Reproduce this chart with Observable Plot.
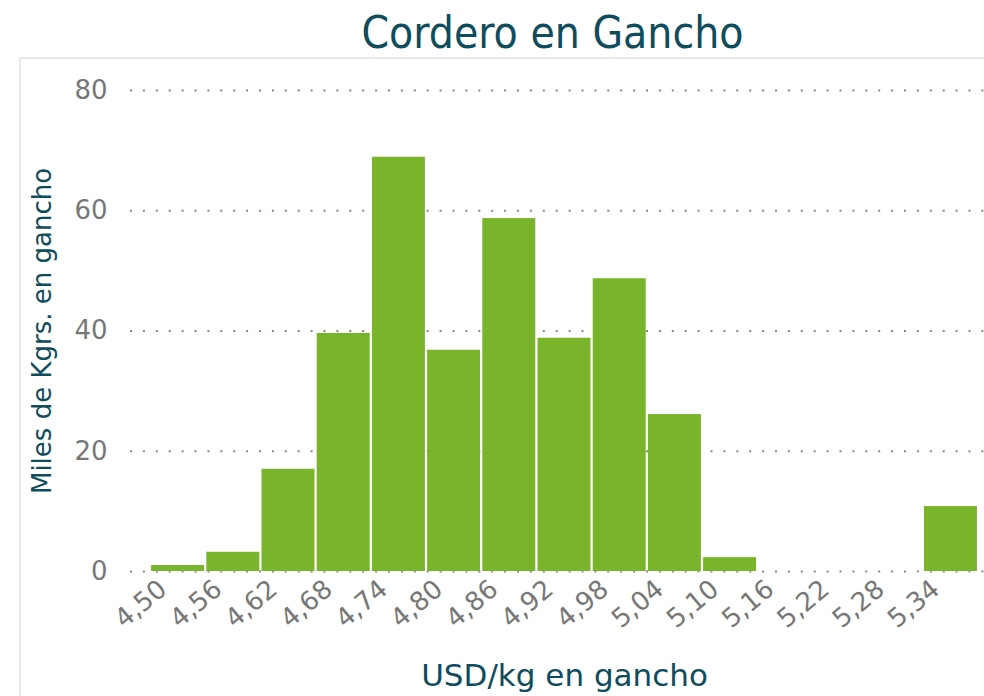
<!DOCTYPE html>
<html>
<head>
<meta charset="utf-8">
<script src="https://cdn.jsdelivr.net/npm/d3@7"></script>
<script src="https://cdn.jsdelivr.net/npm/@observablehq/plot@0.6"></script>
<style>
  html, body { margin: 0; padding: 0; background: #fff; width: 984px; height: 696px; overflow: hidden; }
  #wrap { position: relative; width: 984px; height: 696px; }
  #title { position: absolute; left: 0; top: 11px; width: 984px; padding-left: 121px; box-sizing: border-box;
           text-align: center; font-family: "DejaVu Sans Condensed", "DejaVu Sans"; font-stretch: condensed;
           font-size: 44px; line-height: 44px; color: #0f4c5c; white-space: nowrap; }
  #frame { position: absolute; left: 19px; top: 57px; width: 980px; height: 660px;
           border-left: 2px solid #e8e8e8; border-top: 2px solid #e8e8e8; }
  #chart { position: absolute; left: 0; top: 58px; }
</style>
</head>
<body>
<div id="wrap">
  <div id="frame"></div>
  <div id="title">Cordero en Gancho</div>
  <div id="chart"></div>
</div>
<script>
const categories = ["4,50","4,56","4,62","4,68","4,74","4,80","4,86","4,92","4,98","5,04","5,10","5,16","5,22","5,28","5,34"];
const values = [1.0, 3.2, 17.0, 39.6, 68.9, 36.8, 58.7, 38.8, 48.7, 26.1, 2.3, 0, 0, 0, 10.8];
const yTicks = [0, 20, 40, 60, 80];
const xTitle = "USD/kg en gancho";
const yTitle = "Miles de Kgrs. en gancho";

const teal = "#0f4c5c";
const data = categories.map((c, i) => ({cat: c, val: values[i]}));

const chart = Plot.plot({
  width: 984,
  height: 638,
  marginLeft: 150,
  marginRight: 6,
  marginTop: 32,
  marginBottom: 125,
  style: {fontFamily: "DejaVu Sans", fontSize: "24px", color: "#777", background: "transparent", overflow: "visible"},
  x: {type: "band", domain: categories, paddingInner: 0.04, paddingOuter: 0.02, round: false, label: null},
  y: {domain: [0, 80], ticks: yTicks, label: null},
  marks: [
    Plot.ruleY(yTicks, {stroke: "#888", strokeWidth: 2, strokeDasharray: "2 10.9", insetLeft: -20, insetRight: -6}),
    Plot.barY(data, {x: "cat", y: "val", fill: "#79b42a"}),
    Plot.axisY({ticks: yTicks, tickSize: 0, tickPadding: 43, fontSize: 26, fill: "#777", label: null}),
    Plot.axisX({tickSize: 0, tickRotate: -40, tickPadding: 14, dx: -15, fontSize: 26, fill: "#777", label: null}),
    Plot.text([xTitle], {frameAnchor: "bottom", dy: 114, fontSize: 31, fill: teal}),
    Plot.text([yTitle], {frameAnchor: "left", textAnchor: "middle", rotate: -90, dx: -108, fontSize: 26, fill: teal})
  ]
});
document.getElementById("chart").appendChild(chart);
</script>
</body>
</html>
